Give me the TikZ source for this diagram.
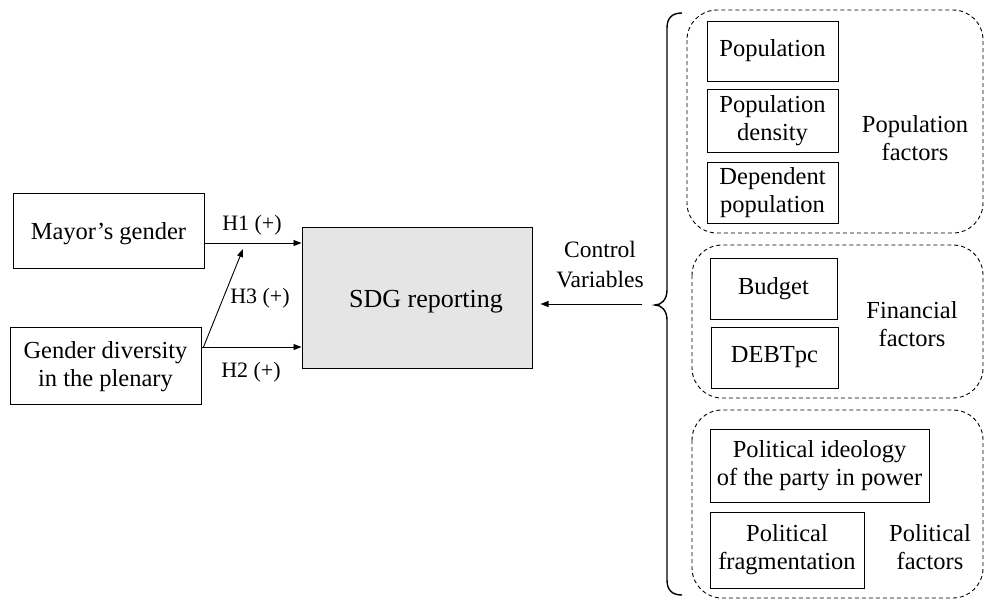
\documentclass[tikz,border=0pt]{standalone}
\usepackage{fontspec}
\setmainfont{Liberation Serif}[Ligatures=TeX]
\newfontfamily\tnr{Liberation Serif}
\usetikzlibrary{arrows.meta,calc}
\begin{document}
\begin{tikzpicture}[x=1pt,y=-1pt,
  every node/.style={font=\tnr\fontsize{24.5}{28}\selectfont, inner sep=0pt, align=center},
  box/.style={draw, line width=1pt},
  grp/.style={draw, line width=0.9pt, dash pattern=on 4pt off 3pt, rounded corners=30pt},
  lbl/.style={font=\tnr\fontsize{22}{30}\selectfont},
  arr/.style={line width=0.9pt, -{Triangle[length=8pt,width=6pt]}}]
\useasboundingbox (0,0) rectangle (984,600);
% left side
\node[box, minimum width=191pt, minimum height=75pt] (mayor) at (108.5,230.5) {};
\node (mayortext) at (108.5,234) {Mayor’s gender};
\node[box, minimum width=191pt, minimum height=77pt] (gender) at (105.5,365.5) {};
\node (gendertext) at (105.5,367) {Gender diversity\\in the plenary};
\node[box, fill=black!10, minimum width=230pt, minimum height=141pt] (sdg) at (417,297.5) {};
\node[font=\tnr\fontsize{26}{30}\selectfont] (sdgtext) at (426,302) {SDG reporting};
% arrows
\coordinate (h1s) at ([yshift=-12.5pt]mayor.east);
\coordinate (h2s) at ([yshift=18.5pt]gender.east);
\coordinate (h3e) at (243,249);
\draw[arr] (h1s) -- (h1s -| sdg.west);
\draw[arr] (h2s) -- (h2s -| sdg.west);
\draw[arr] ([xshift=2pt]h2s) -- (h3e);
\node[lbl] (h1) at (252,225) {H1 (+)};
\node[lbl] (h3) at (260,298) {H3 (+)};
\node[lbl] (h2) at (251,372) {H2 (+)};
% control
\node[lbl, font=\tnr\fontsize{23.5}{30}\selectfont] (ctrl) at (600,265) {Control\\Variables};
\coordinate (bracetip) at (642,304);
\coordinate (ctltip) at ([xshift=8pt]sdg.east |- bracetip);
\draw[arr] (bracetip) -- (ctltip);
% brace
\draw[line width=1.4pt] (682,13) .. controls (672,13) and (667,18) .. (667,28) -- (667,290)
  .. controls (667,300) and (661,305) .. (655,305)
  .. controls (661,305) and (667,310) .. (667,320) -- (667,580)
  .. controls (667,590) and (672,595) .. (682,595);
% groups
\draw[grp] (687,10) rectangle (983,233);
\draw[grp] (692,245) rectangle (983,398);
\draw[grp] (692,410) rectangle (983,598);
% population
\node[box, minimum width=131pt, minimum height=60pt] (pop) at (772.5,51) {Population};
\node[box, minimum width=131pt, minimum height=63pt] (popd) at (772.5,120.5) {Population\\density};
\node[box, minimum width=131pt, minimum height=61pt] (dep) at (772.5,192.5) {Dependent\\population};
\node (popf) at (915,138) {Population\\factors};
% financial
\node[box, minimum width=127pt, minimum height=61pt] (budget) at (773.5,288.5) {Budget};
\node[box, minimum width=127pt, minimum height=61pt] (debt) at (774.5,357.5) {DEBTpc};
\node (finf) at (912,324) {Financial\\factors};
% political
\node[box, minimum width=219pt, minimum height=73pt] (ideo) at (819.5,465.5) {Political ideology\\of the party in power};
\node[box, minimum width=154pt, minimum height=76pt] (frag) at (787,550) {Political\\fragmentation};
\node (polf) at (930,547) {Political\\factors};
\end{tikzpicture}
\end{document}
